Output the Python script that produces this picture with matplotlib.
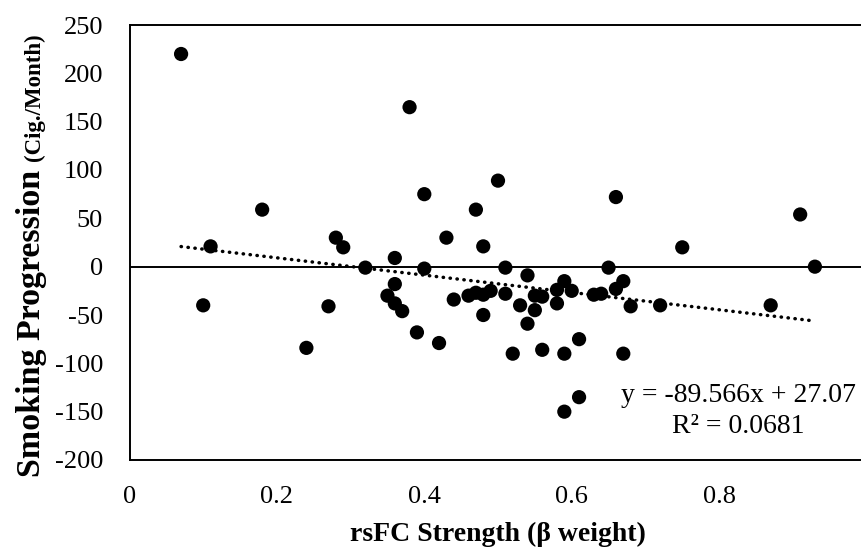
import matplotlib
matplotlib.use("Agg")
import matplotlib.pyplot as plt
import numpy as np

# Data
x_vals = [0.07, 0.10, 0.11, 0.18, 0.24, 0.27, 0.28, 0.29, 0.32, 0.35,
          0.36, 0.36, 0.36, 0.37, 0.38, 0.39, 0.40, 0.40, 0.42, 0.43,
          0.44, 0.46, 0.47, 0.47, 0.48, 0.49, 0.48, 0.48, 0.50, 0.51,
          0.51, 0.52, 0.53, 0.54, 0.54, 0.55, 0.55, 0.56, 0.56, 0.58,
          0.58, 0.59, 0.59, 0.59, 0.60, 0.61, 0.61, 0.63, 0.64, 0.65,
          0.66, 0.66, 0.67, 0.67, 0.68, 0.72, 0.75, 0.87, 0.91, 0.93]
y_vals = [220, -40, 21, 59, -84, -41, 30, 20, -1, -30,
          9, -18, -38, -46, 165, -68, 75, -2, -79, 30,
          -34, -30, 59, -27, -29, -25, 21, -50, 89, -1,
          -28, -90, -40, -9, -59, -30, -45, -31, -86, -24,
          -38, -15, -90, -150, -25, -75, -135, -29, -28, -1,
          -23, 72, -15, -90, -41, -40, 20, -40, 54, 0]

slope = -89.566
intercept = 27.07
r_squared = 0.0681

x_ticks = [0, 0.2, 0.4, 0.6, 0.8]
x_tick_labels = ["0", "0.2", "0.4", "0.6", "0.8"]
y_ticks = [-200, -150, -100, -50, 0, 50, 100, 150, 200, 250]
y_tick_labels = ["-200", "-150", "-100", "-50", "0", "50", "100", "150", "200", "250"]

serif = "Liberation Serif"
W, H = 861, 548
fig = plt.figure(figsize=(W / 100, H / 100), dpi=100)
ax = fig.add_axes([129.5 / W, 88 / H, 737 / W, 435 / H])

ax.set_xlim(0, 1)
ax.set_ylim(-200, 250)

ax.axhline(0, color="black", lw=1.4, zorder=1)

xs = np.array([min(x_vals), max(x_vals)])
ax.plot(xs, slope * xs + intercept, color="black", lw=2.5,
        linestyle=(0, (0.1, 1.9)), dash_capstyle="round", zorder=2)

ax.scatter(x_vals, y_vals, s=105, color="black", edgecolors="none", zorder=3)

for sp in ax.spines.values():
    sp.set_linewidth(1.4)
    sp.set_color("black")

ax.set_xticks(x_ticks)
ax.set_xticklabels(x_tick_labels)
ax.set_yticks(y_ticks)
ax.set_yticklabels(y_tick_labels)
ax.tick_params(axis="both", length=0, labelsize=19)
ax.tick_params(axis="x", pad=19)
ax.tick_params(axis="y", pad=19)
for lab in ax.get_xticklabels() + ax.get_yticklabels():
    lab.set_fontfamily(serif)

# Equation text
ax.text(738 / W, 1 - 401.5 / H, "y = -89.566x + 27.07", transform=fig.transFigure,
        ha="center", va="baseline", fontsize=20, family=serif)
ax.text(738 / W, 1 - 433 / H, "R\u00b2 = 0.0681", transform=fig.transFigure,
        ha="center", va="baseline", fontsize=20, family=serif)

# X label
fig.text(498 / W, 1 - 541 / H, "rsFC Strength (\u03b2 weight)", ha="center",
         va="baseline", fontsize=20, fontweight="bold", family=serif)

# Y label in two sizes
fig.text(40 / W, 1 - 477 / H, "Smoking Progression", rotation=90,
         rotation_mode="anchor", ha="left", va="baseline",
         fontsize=24.5, fontweight="bold", family=serif)
fig.text(40 / W, 1 - 33 / H, "(Cig./Month)", rotation=90,
         rotation_mode="anchor", ha="right", va="baseline",
         fontsize=16.5, fontweight="bold", family=serif)

fig.savefig("out.png", dpi=100)
